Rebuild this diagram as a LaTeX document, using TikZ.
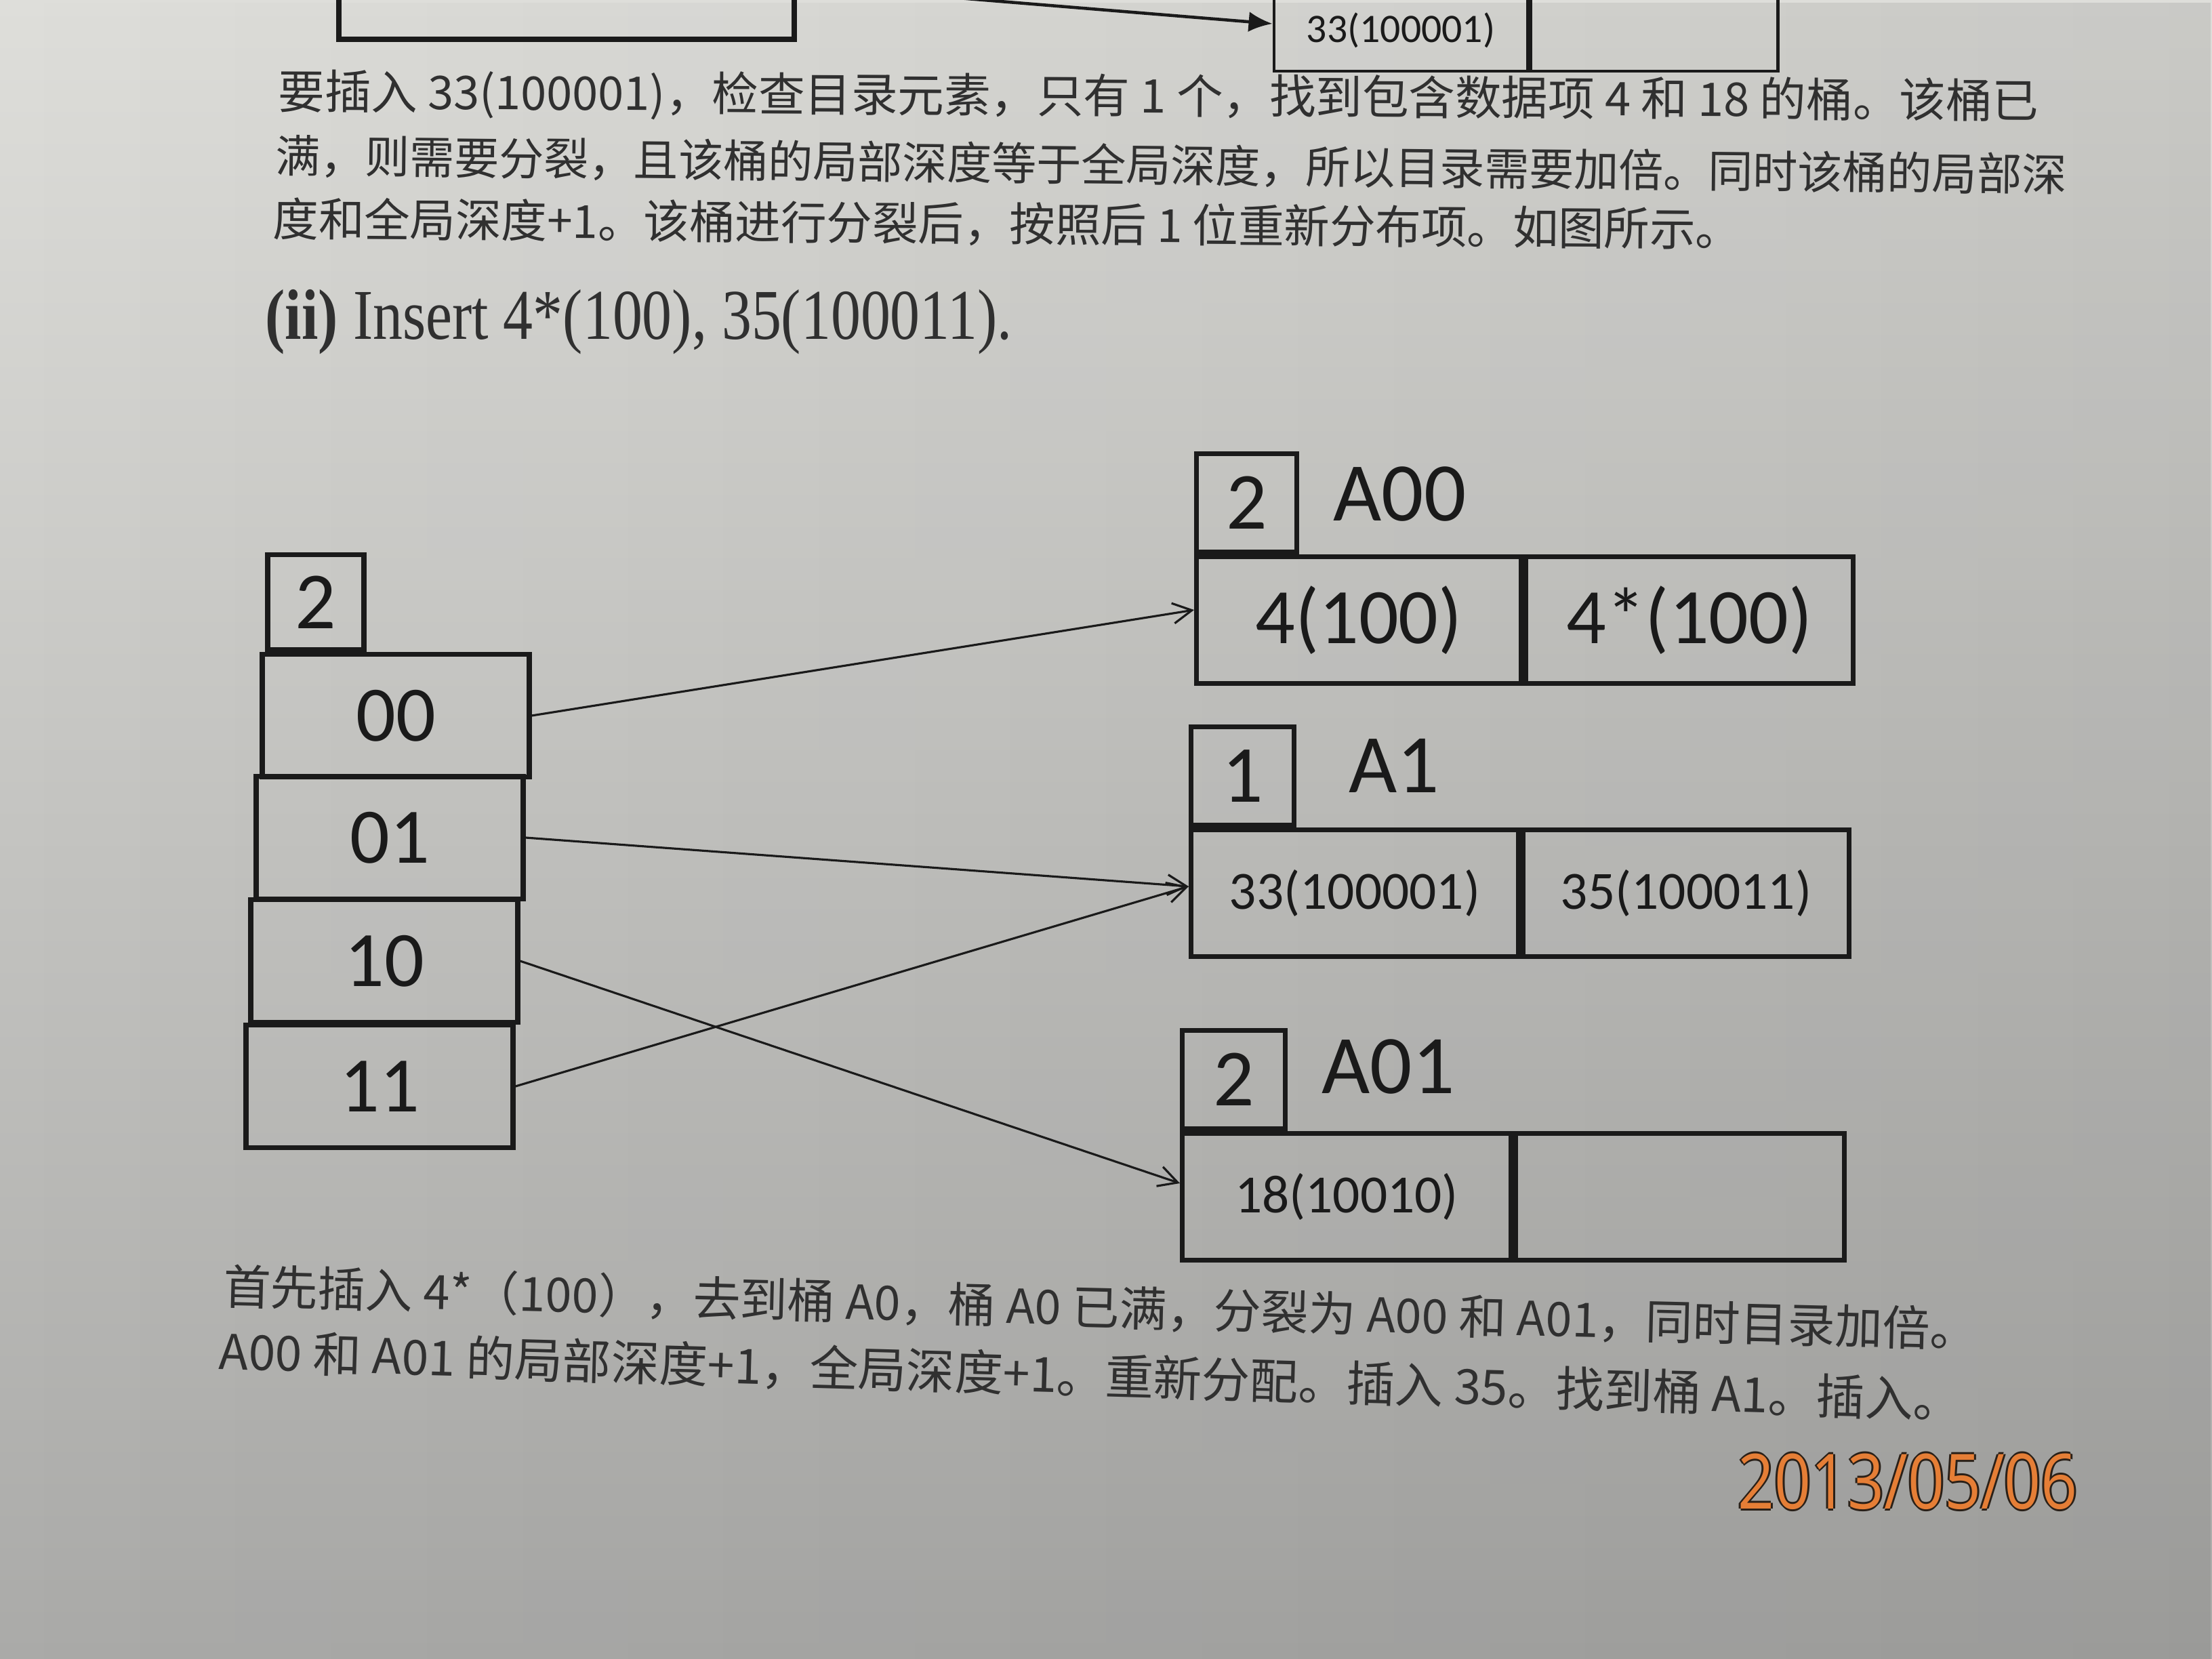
\documentclass[tikz,border=0pt]{standalone}
\usepackage{fontspec}
\setmainfont{Liberation Serif}
\newfontfamily\cjk{Noto Sans CJK SC}
\newfontfamily\carlito{Carlito}
\newfontfamily\stampfont{Open Sans}
\usetikzlibrary{arrows.meta,fadings}
\definecolor{ink}{HTML}{1A1A1A}
\definecolor{printink}{HTML}{303030}
\definecolor{paperTop}{HTML}{DEDEDA}
\definecolor{paperMid}{HTML}{D3D3CF}
\definecolor{paperBot}{HTML}{AAAAA8}
\definecolor{stamp}{HTML}{E57E36}
\definecolor{stampedge}{HTML}{2A2018}
\tikzfading[name=fromleft, left color=transparent!100, right color=transparent!0]
\tikzset{
  cell/.style={draw=ink, line width=2pt, inner sep=0pt, text=ink, font=\carlito},
  dircell/.style={cell, minimum width=3.94cm, minimum height=1.81cm, font=\carlito\fontsize{33}{36}\selectfont},
  depthbox/.style={cell, minimum width=1.48cm, minimum height=1.45cm, anchor=south west, font=\carlito\fontsize{34}{38}\selectfont},
  bucketcell/.style={cell, minimum width=4.82cm, minimum height=1.87cm},
  bigtxt/.style={font=\carlito\fontsize{33}{36}\selectfont},
  smalltxt/.style={font=\carlito\fontsize{22.6}{26}\selectfont},
  blabel/.style={text=ink, font=\carlito\fontsize{35}{38}\selectfont, inner sep=0pt},
  conn/.style={draw=ink, line width=0.9pt, -{Straight Barb[length=0.28cm, width=0.3cm, line width=0.9pt]}},
  para/.style={text=printink, anchor=west, inner sep=0pt},
  stampedgestyle/.style={inner sep=0pt, text=stampedge, font=\stampfont\fontsize{32}{36}\selectfont},
  stampstyle/.style={inner sep=0pt, text=stamp, font=\stampfont\fontsize{32}{36}\selectfont}
}
\newcommand{\datetext}{\scalebox{0.84}[1]{2013/05/06}}
\begin{document}
\begin{tikzpicture}
\useasboundingbox (0,0) rectangle (32.64,-24.48);
\shade[top color=paperTop, middle color=paperMid, bottom color=paperBot] (0,0) rectangle (32.64,-24.48);
\fill[black, fill opacity=0.09, path fading=fromleft] (0,0) rectangle (32.64,-24.48);

% fragments of the previous figure at the top
\node[cell, minimum width=6.72cm, minimum height=1.08cm] (tl) at (8.36,-0.04) {};
\node[cell, line width=1.4pt, minimum width=3.74cm, minimum height=1.2cm, font=\carlito\fontsize{17}{20}\selectfont] (tbl) at (20.67,-0.45) {33(100001)};
\node[cell, line width=1.4pt, minimum width=3.65cm, minimum height=1.2cm, anchor=west] (tbr) at (tbl.east) {};
\coordinate (tstart) at (13.9,0.05);
\draw[draw=ink, line width=1.3pt, -{Latex[length=0.35cm, width=0.3cm]}] (tstart) -- ([yshift=0.1cm]tbl.west);

% paragraph 1
\node[para, rotate=-0.3, font=\cjk\fontsize{19.5}{22}\selectfont] (p1a) at (4.10,-1.38) {要插入 33(100001)，检查目录元素，只有 1 个，找到包含数据项 4 和 18 的桶。该桶已};
\node[para, rotate=-0.6, font=\cjk\fontsize{18.8}{22}\selectfont] (p1b) at (4.06,-2.30) {满，则需要分裂，且该桶的局部深度等于全局深度，所以目录需要加倍。同时该桶的局部深};
\node[para, rotate=-0.4, font=\cjk\fontsize{19.2}{22}\selectfont] (p1c) at (4.02,-3.23) {度和全局深度+1。该桶进行分裂后，按照后 1 位重新分布项。如图所示。};

% heading
\node[anchor=west, inner sep=0pt, text=printink, font=\fontsize{25}{28}\selectfont] (head) at (3.91,-4.75) {\scalebox{1}[1.2]{\textbf{(ii)} Insert 4*(100), 35(100011).}};

% directory
\node[dircell] (d00) at (5.84,-10.56) {00};
\node[dircell] (d01) at (5.75,-12.36) {01};
\node[dircell] (d10) at (5.67,-14.18) {10};
\node[dircell] (d11) at (5.60,-16.03) {11};
\node[depthbox, minimum width=1.42cm, minimum height=1.40cm] (dg) at ([xshift=0.08cm]d00.north west) {2};

% bucket A00
\node[bucketcell, bigtxt, minimum width=4.79cm] (a00l) at (20.05,-9.15) {4(100)};
\node[bucketcell, bigtxt, minimum width=4.83cm, anchor=west] (a00r) at (a00l.east) {4*(100)};
\node[depthbox] (a00d) at (a00l.north west) {2};
\node[blabel, anchor=west] (a00n) at (19.67,-7.29) {A00};

% bucket A1
\node[bucketcell, smalltxt, minimum width=4.83cm] (a1l) at (19.99,-13.18) {33(100001)};
\node[bucketcell, smalltxt, minimum width=4.81cm, anchor=west] (a1r) at (a1l.east) {35(100011)};
\node[depthbox, minimum width=1.52cm] (a1d) at (a1l.north west) {1};
\node[blabel] (a1n) at (20.57,-11.30) {A1};

% bucket A01
\node[bucketcell, smalltxt, minimum width=4.85cm] (a01l) at (19.87,-17.66) {18(10010)};
\node[bucketcell, minimum width=4.85cm, anchor=west] (a01r) at (a01l.east) {};
\node[depthbox, minimum width=1.52cm] (a01d) at (a01l.north west) {2};
\node[blabel, anchor=west] (a01n) at (19.50,-15.74) {A01};

% connectors
\draw[conn] (d00.east) -- ([yshift=0.15cm]a00l.west);
\draw[conn] (d01.east) -- ([yshift=0.10cm]a1l.west);
\draw[conn] (d11.east) -- ([yshift=0.10cm]a1l.west);
\draw[conn] (d10.east) -- ([yshift=0.20cm]a01l.west);

% paragraph 2
\node[para, rotate=-1.4, font=\cjk\fontsize{19.9}{22}\selectfont] (p2a) at (3.29,-18.98) {首先插入 4*（100），去到桶 A0，桶 A0 已满，分裂为 A00 和 A01，同时目录加倍。};
\node[para, rotate=-1.6, font=\cjk\fontsize{20.3}{22}\selectfont] (p2b) at (3.23,-19.94) {A00 和 A01 的局部深度+1，全局深度+1。重新分配。插入 35。找到桶 A1。插入。};

% date stamp (dark rim, then orange face)
\node[stampedgestyle] (dateE) at (28.18,-21.86) {\datetext};
\node[stampedgestyle] (dateW) at (28.12,-21.86) {\datetext};
\node[stampedgestyle] (dateN) at (28.15,-21.83) {\datetext};
\node[stampedgestyle] (dateS) at (28.15,-21.89) {\datetext};
\node[stampstyle] (date) at (28.15,-21.86) {\datetext};
\end{tikzpicture}
\end{document}
